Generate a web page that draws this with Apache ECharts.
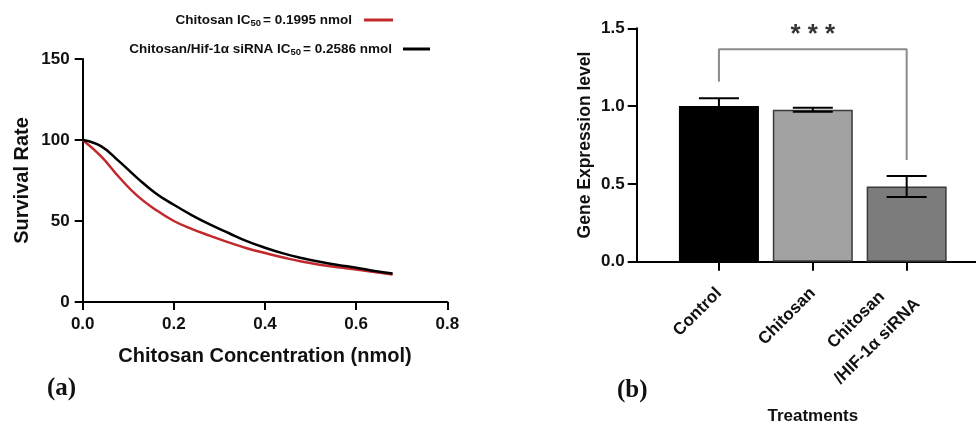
<!DOCTYPE html>
<html>
<head>
<meta charset="utf-8">
<script src="https://cdn.jsdelivr.net/npm/echarts@6/dist/echarts.min.js"></script>
<style>
html,body{margin:0;padding:0;background:#fff;}
#c{width:976px;height:425px;}
</style>
</head>
<body>
<div id="c"></div>
<script>
// ---- Panel (a): survival curves ----
var concX = [0, 0.04, 0.08, 0.12, 0.16, 0.2, 0.24, 0.28, 0.32, 0.36, 0.4, 0.44, 0.48, 0.52, 0.56, 0.6, 0.64, 0.68];
var chitosanSurv = [100, 90, 77, 65.5, 57, 50, 45, 40.8, 36.8, 33.2, 30.2, 27.5, 25, 23, 21.4, 20, 18.5, 17];
var sirnaSurv = [100, 96.2, 86.8, 76.5, 67.2, 60, 53.5, 47.7, 42.6, 37.6, 33.5, 30, 27.2, 24.8, 22.8, 21.2, 19.2, 17.6];
var seriesNames = ['Chitosan', 'Chitosan/Hif-1\u03b1 siRNA'];
var ic50Labels = ['0.1995', '0.2586'];
var xTicks = [0, 0.2, 0.4, 0.6, 0.8];
var yTicks = [0, 50, 100, 150];

// ---- Panel (b): gene expression ----
var treatments = ['Control', 'Chitosan', 'Chitosan\n/HIF-1\u03b1 siRNA'];
var exprMean = [1.0, 0.977, 0.483];
var exprSd = [0.05, 0.013, 0.067];
var barColors = ['#000000', '#a2a2a2', '#7c7c7c'];
var bracketPts = [[0, 1.157], [0, 1.365], [2, 1.365], [2, 0.654]];
var sigLabel = '* * *';
var sigPos = [1, 1.455];

var FONT = '"Liberation Sans", Arial, sans-serif';

function pairs(xs, ys) { return xs.map(function (x, i) { return [x, ys[i]]; }); }

function legendFmt(idx) {
  return function (name) {
    return '{b|' + name + ' IC}{s|50}{b|= ' + ic50Labels[idx] + ' nmol}';
  };
}
var legendRich = {
  b: { fontFamily: FONT, fontWeight: 'bold', fontSize: 13.5, color: '#111' },
  s: { fontFamily: FONT, fontWeight: 'bold', fontSize: 9.5, color: '#111', padding: [7, 2, 0, 0] }
};

var chart = echarts.init(document.getElementById('c'), null, { renderer: 'canvas' });

var option = {
  animation: false,
  backgroundColor: '#fff',
  legend: [
    {
      data: [seriesNames[0]], right: 583, top: 13, align: 'right', padding: 0,
      icon: 'rect', itemWidth: 29, itemHeight: 3, formatter: legendFmt(0),
      textStyle: { rich: legendRich, padding: [0, 7, 0, 0] }, selectedMode: false
    },
    {
      data: [seriesNames[1]], right: 546, top: 42, align: 'right', padding: 0,
      icon: 'rect', itemWidth: 27, itemHeight: 3, formatter: legendFmt(1),
      textStyle: { rich: legendRich, padding: [0, 6, 0, 0] }, selectedMode: false
    }
  ],
  grid: [
    { left: 82.7, top: 59, width: 364.6, height: 243, containLabel: false, outerBoundsMode: 'none' },
    { left: 672, top: 28.3, width: 281.6, height: 233.4, containLabel: false, outerBoundsMode: 'none' },
    { left: 636.7, top: 28.3, width: 340, height: 233.4, containLabel: false, outerBoundsMode: 'none' }
  ],
  xAxis: [
    {
      gridIndex: 0, type: 'value', min: xTicks[0], max: xTicks[xTicks.length - 1], interval: 0.2,
      axisLine: { lineStyle: { color: '#000', width: 2 } },
      axisTick: { length: 8, lineStyle: { color: '#000', width: 2 } },
      axisLabel: { margin: 14, color: '#111', fontFamily: FONT, fontWeight: 'bold', fontSize: 17,
        formatter: function (v) { return v.toFixed(1); } },
      splitLine: { show: false },
      name: 'Chitosan Concentration (nmol)', nameLocation: 'middle', nameGap: 44,
      nameTextStyle: { color: '#111', fontFamily: FONT, fontWeight: 'bold', fontSize: 20 }
    },
    {
      gridIndex: 1, type: 'category', data: treatments,
      axisLine: { show: false },
      axisTick: { show: true, alignWithLabel: true, length: 9, lineStyle: { color: '#000', width: 2 } },
      axisLabel: {
        rotate: 45, margin: 29, interval: 0, color: '#111',
        formatter: function (v) {
          var parts = v.split('\n');
          if (parts.length > 1) return '{p|' + parts[0] + '}\n{n|' + parts[1] + '}';
          return '{n|' + v + '}';
        },
        rich: {
          n: { fontFamily: FONT, fontWeight: 'bold', fontSize: 17, color: '#111', lineHeight: 30 },
          p: { fontFamily: FONT, fontWeight: 'bold', fontSize: 17, color: '#111', lineHeight: 30, padding: [0, 20, 0, 0] }
        }
      },
      name: 'Treatments', nameLocation: 'middle', nameGap: 146,
      nameTextStyle: { color: '#111', fontFamily: FONT, fontWeight: 'bold', fontSize: 17 }
    },
    {
      gridIndex: 2, type: 'value', min: 0, max: 1,
      axisLine: { show: true, lineStyle: { color: '#000', width: 2 } },
      axisTick: { show: false }, axisLabel: { show: false }, splitLine: { show: false }
    }
  ],
  yAxis: [
    {
      gridIndex: 0, type: 'value', min: yTicks[0], max: yTicks[yTicks.length - 1], interval: 50,
      axisLine: { show: true, lineStyle: { color: '#000', width: 2 } },
      axisTick: { show: true, length: 8, lineStyle: { color: '#000', width: 2 } },
      axisLabel: { margin: 13, color: '#111', fontFamily: FONT, fontWeight: 'bold', fontSize: 17 },
      splitLine: { show: false },
      name: 'Survival Rate', nameLocation: 'middle', nameGap: 50,
      nameTextStyle: { color: '#111', fontFamily: FONT, fontWeight: 'bold', fontSize: 20 }
    },
    {
      gridIndex: 1, type: 'value', min: 0, max: 1.5, interval: 0.5, offset: 35.3,
      axisLine: { show: true, lineStyle: { color: '#000', width: 2 } },
      axisTick: { show: true, length: 9, lineStyle: { color: '#000', width: 2 } },
      axisLabel: { margin: 12, color: '#111', fontFamily: FONT, fontWeight: 'bold', fontSize: 17,
        formatter: function (v) { return v.toFixed(1); } },
      splitLine: { show: false },
      name: 'Gene Expression level', nameLocation: 'middle', nameGap: 43,
      nameTextStyle: { color: '#111', fontFamily: FONT, fontWeight: 'bold', fontSize: 17.5 }
    },
    { gridIndex: 2, type: 'value', show: false, min: 0, max: 1 }
  ],
  series: [
    {
      name: seriesNames[0], type: 'line', xAxisIndex: 0, yAxisIndex: 0,
      data: pairs(concX, chitosanSurv), smooth: 0.45, showSymbol: false, symbol: 'none',
      itemStyle: { color: '#c3282c' }, lineStyle: { color: '#c3282c', width: 2.5 }, z: 3
    },
    {
      name: seriesNames[1], type: 'line', xAxisIndex: 0, yAxisIndex: 0,
      data: pairs(concX, sirnaSurv), smooth: 0.45, showSymbol: false, symbol: 'none',
      itemStyle: { color: '#000' }, lineStyle: { color: '#000', width: 2.5 }, z: 4
    },
    {
      type: 'bar', xAxisIndex: 1, yAxisIndex: 1, barWidth: 80,
      data: exprMean.map(function (v, i) {
        return { value: v, itemStyle: { color: barColors[i], borderColor: i === 0 ? '#000' : '#3a3a3a', borderWidth: 1.5 } };
      }),
      z: 2
    },
    {
      type: 'custom', xAxisIndex: 1, yAxisIndex: 1, z: 5,
      data: exprMean.map(function (v, i) { return [i, v, exprSd[i]]; }),
      renderItem: function (params, api) {
        var x = api.value(0), m = api.value(1), s = api.value(2);
        var top = api.coord([x, m + s]);
        var bot = api.coord([x, m - s]);
        var half = 20;
        var st = { stroke: '#000', lineWidth: 2 };
        return {
          type: 'group',
          children: [
            { type: 'line', shape: { x1: top[0], y1: top[1], x2: bot[0], y2: bot[1] }, style: st },
            { type: 'line', shape: { x1: top[0] - half, y1: top[1], x2: top[0] + half, y2: top[1] }, style: st },
            { type: 'line', shape: { x1: bot[0] - half, y1: bot[1], x2: bot[0] + half, y2: bot[1] }, style: st }
          ]
        };
      }
    },
    {
      type: 'line', xAxisIndex: 1, yAxisIndex: 1, data: bracketPts, symbol: 'none',
      lineStyle: { color: '#8a8a8a', width: 2 }, z: 4, silent: true
    },
    {
      type: 'scatter', xAxisIndex: 1, yAxisIndex: 1, data: [sigPos], symbolSize: 0,
      label: { show: true, position: 'inside', formatter: sigLabel, color: '#000',
        fontFamily: FONT, fontWeight: 'bold', fontSize: 26 }, z: 6
    }
  ],
  graphic: [
    { type: 'text', left: 47, top: 376, style: { text: '(a)', fontFamily: '"Liberation Serif", "Times New Roman", serif', fontWeight: 'bold', fontSize: 25, fill: '#111' } },
    { type: 'text', left: 617, top: 378, style: { text: '(b)', fontFamily: '"Liberation Serif", "Times New Roman", serif', fontWeight: 'bold', fontSize: 25, fill: '#111' } }
  ]
};
chart.setOption(option);
</script>
</body>
</html>
